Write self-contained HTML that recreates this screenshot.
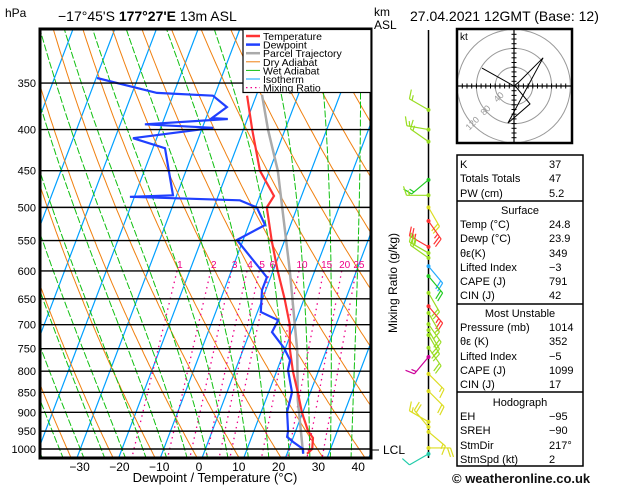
<!DOCTYPE html>
<html><head><meta charset="utf-8">
<style>
html,body{margin:0;padding:0;background:#fff;}
svg{display:block;font-family:"Liberation Sans",sans-serif;}
</style></head>
<body>
<svg id="chart" width="629" height="486" viewBox="0 0 629 486" xmlns="http://www.w3.org/2000/svg">
<defs><clipPath id="pc"><rect x="40" y="29" width="331" height="429"/></clipPath></defs>
<g id="bg" clip-path="url(#pc)"></g>
<g id="prof" clip-path="url(#pc)"></g>
<g id="fg"></g>
<text x="5" y="17" font-size="12">hPa</text>
<text x="58" y="21" font-size="14">−17°45'S <tspan font-weight="bold">177°27'E</tspan> 13m ASL</text>
<text x="374" y="16" font-size="12">km</text>
<text x="374" y="29" font-size="12">ASL</text>
<text x="410" y="21" font-size="14">27.04.2021 12GMT (Base: 12)</text>
<text x="215" y="482" font-size="13" text-anchor="middle">Dewpoint / Temperature (°C)</text>
<text transform="translate(397,283) rotate(-90)" font-size="12" text-anchor="middle">Mixing Ratio (g/kg)</text>
<line x1="372" y1="450" x2="379" y2="450" stroke="#000"/>
<text x="383" y="454" font-size="12">LCL</text>
<line x1="428.5" y1="30" x2="428.5" y2="458" stroke="#000" stroke-width="1.5"/>
<g id="barbs"></g>
<g id="hodo"></g>
<g id="table"></g>
<text x="452" y="483" font-size="13" font-weight="bold" fill="#111">© weatheronline.co.uk</text>
</svg>
<script>
// ---------- data ----------
const pressureLevels=[350,400,450,500,550,600,650,700,750,800,850,900,950,1000];
const xTicks=[-30,-20,-10,0,10,20,30,40];
const tempP=[363,400,450,484,500,550,600,650,700,750,800,850,900,950,969,1000,1014];
const tempT=[-22.2,-17.9,-12.3,-6.6,-7.3,-3.1,1.1,5.3,8.9,11.1,13.9,17.0,19.8,23.0,24.8,25.6,24.8];
const dewP=[345,360,363,375,387,388,394,398,410,422,483,485,490,500,526,549,611,634,675,691,715,748,775,797,850,899,950,966,980,1000,1014];
const dewT=[-59.8,-44.1,-30.4,-26.0,-28.6,-24.7,-44.1,-27.4,-45.7,-37.1,-30.9,-41.1,-14.4,-9.7,-6.1,-11.5,-0.9,-0.9,0.8,5.7,5.3,9.6,12.2,12.6,15.6,16.2,18.2,18.5,20.4,23.4,23.9];
const parcelP=[1012,869,753,600,450,400,362];
const parcelT=[23.8,17.7,13.0,4.0,-8.0,-14.1,-18.7];
const mixRatios=[1,2,3,4,5,6,10,15,20,25];
const wetStart=[-40,-35,-30,-25,-20,-15,-10,-5,0,5,10,15,20,25,30,35,40];
const barbP=[378,400,414,462,483,500,520,560,570,578,592,609,639,664,677,699,711,721,748,768,806,847,925,939,952,997,1014];
const barbDir=[300,280,305,230,270,150,145,300,300,305,140,140,150,140,150,145,150,150,145,220,135,135,300,320,130,90,240];
const barbSpd=[15,15,15,15,15,20,25,25,25,20,20,20,20,25,15,20,20,20,20,15,15,20,15,20,15,20,10];
const barbCol=["#99dd22","#99dd22","#99dd22","#22cc22","#99dd22","#dddd22","#ff3333","#ff3333","#99dd22","#99dd22","#22aaff","#22cc22","#99dd22","#ff3333","#99dd22","#99dd22","#99dd22","#99dd22","#99dd22","#cc0099","#dddd22","#dddd22","#dddd22","#dddd22","#dddd22","#dddd22","#22ccaa"];
const hodoU=[0,-68,0,10,62,-13,34,5,0];
const hodoV=[0,38,0,8,60,-79,-38,-3,0];
const tableRows=[["K","37"],["Totals Totals","47"],["PW (cm)","5.2"],["#Surface",""],["Temp (°C)","24.8"],["Dewp (°C)","23.9"],["θε(K)","349"],["Lifted Index","−3"],["CAPE (J)","791"],["CIN (J)","42"],["#Most Unstable",""],["Pressure (mb)","1014"],["θε (K)","352"],["Lifted Index","−5"],["CAPE (J)","1099"],["CIN (J)","17"],["#Hodograph",""],["EH","−95"],["SREH","−90"],["StmDir","217°"],["StmSpd (kt)","2"]];
// ---------- scales ----------
const NS="http://www.w3.org/2000/svg";
function yP(p){return 449+348.6*Math.log(p/1000);}
function xT(t,p){return 202+t*4.17+(458-yP(p))*0.38;}
function mk(tag,attrs,parent){const e=document.createElementNS(NS,tag);for(const k in attrs)e.setAttribute(k,attrs[k]);parent.appendChild(e);return e;}
const bg=document.getElementById('bg'),prof=document.getElementById('prof'),fg=document.getElementById('fg');
function poly(pts,stroke,w,dash,parent,name){const e=mk('polyline',{points:pts.map(q=>q[0].toFixed(1)+','+q[1].toFixed(1)).join(' '),fill:'none',stroke:stroke,'stroke-width':w},parent);if(dash)e.setAttribute('stroke-dasharray',dash);


return e;}
const pList=[];for(let p=1030;p>=295;p-=5)pList.push(p);
// isotherms
for(let t=-90;t<=40;t+=10){poly([[xT(t,1030),yP(1030)],[xT(t,295),yP(295)]],'#00a0ff',1.2,null,bg,'isotherm');}
// dry adiabats
for(let th=230;th<=480;th+=10){poly(pList.map(p=>[xT(th*Math.pow(p/1000,0.286)-273.15,p),yP(p)]),'#f08010',1,null,bg,'dry-adiabat');}
// wet adiabats
function es(t){return 6.112*Math.exp(17.67*t/(t+243.5));}
function dTdp(t,p){const T=t+273.15,rs=0.622*es(t)/(p-es(t)),L=2.5e6,Rd=287,cp=1004;return (Rd*T+L*rs)/(p*(cp+L*L*rs*0.622/(Rd*T*T)));}
wetStart.forEach(t0=>{const pts=[];let t=t0;for(let p=1000;p<=1030;p+=5){pts.push([xT(t,p),yP(p)]);t+=dTdp(t,p)*5;}
pts.reverse();t=t0;for(let p=1000;p>=295;p-=5){if(p<1000)pts.push([xT(t,p),yP(p)]);t-=dTdp(t,p)*5;}
poly(pts,'#10c010',1,'7,2',bg,'wet-adiabat');});
// mixing ratio lines
mixRatios.forEach(w=>{const pts=[];[600,1030].forEach(p=>{const e=w*p/(622+w),l=Math.log(e/6.112);const td=243.5*l/(17.67-l);pts.push([xT(td,p),yP(p)]);});
poly(pts,'#ee0088',1.3,'1.5,4',bg,'mixing-ratio-line');
const e=w*600/(622+w),l=Math.log(e/6.112),td=243.5*l/(17.67-l);
const tx=mk('text',{x:xT(td,600)+3,y:268,'font-size':10,fill:'#ee0088','text-anchor':'middle'},bg);tx.textContent=w;

});
// pressure lines
pressureLevels.forEach(p=>{const y=yP(p);const l=mk('line',{x1:40,x2:371,y1:y,y2:y,stroke:'#000','stroke-width':1.4},fg);


const t=mk('text',{x:36,y:y+4,'font-size':11,'text-anchor':'end'},fg);t.textContent=p;

});
// profiles
poly(parcelP.map((p,i)=>[xT(parcelT[i],p),yP(p)]),'#aaaaaa',2.5,null,prof,'parcel-trajectory');
poly(tempP.map((p,i)=>[xT(tempT[i],p),yP(p)]),'#ff3333',2.2,null,prof,'temperature-line');
poly(dewP.map((p,i)=>[xT(dewT[i],p),yP(p)]),'#2040ff',2.2,null,prof,'dewpoint-line');
// frame
const fr=mk('rect',{x:40,y:29,width:331,height:429,fill:'none',stroke:'#000','stroke-width':3},fg);


xTicks.forEach(t=>{const tx=mk('text',{x:199+t*3.98,y:471,'font-size':12,'text-anchor':'middle'},fg);tx.textContent=(t<0?'−':'')+Math.abs(t);

});
// legend
const lg=mk('g',{},fg);


mk('rect',{x:243,y:29.5,width:128,height:63,fill:'#fff',stroke:'#000','stroke-width':1.2},lg);
const legN=['Temperature','Dewpoint','Parcel Trajectory','Dry Adiabat','Wet Adiabat','Isotherm','Mixing Ratio'];
const legC=['#ff3333','#2040ff','#aaaaaa','#f08010','#10c010','#00a0ff','#ee0088'];
const legW=[2.5,2.5,2.5,1,1,1,1.3];
legN.forEach((n,i)=>{const y=36+i*8.6;const l=mk('line',{x1:246,x2:260,y1:y,y2:y,stroke:legC[i],'stroke-width':legW[i]},lg);if(i==6)l.setAttribute('stroke-dasharray','1.5,3');


const t=mk('text',{x:263,y:y+4,'font-size':10.5},lg);t.textContent=n;

});
// wind barbs
const bb=document.getElementById('barbs');
barbP.forEach((p,i)=>{const x=428.5,y=yP(p),c=barbCol[i],a=barbDir[i]*Math.PI/180;const dx=Math.sin(a),dy=-Math.cos(a);const L=22;
const ex=x+dx*L,ey=y+dy*L;const g=mk('g',{stroke:c,'stroke-width':1.2,fill:c},bb);


mk('circle',{cx:x,cy:y,r:2,stroke:'none'},g);mk('line',{x1:x,y1:y,x2:ex,y2:ey},g);
let s=barbSpd[i],pos=0;const px=-dy,py=dx;
while(s>=10){const bx=ex-dx*pos,by=ey-dy*pos;mk('line',{x1:bx,y1:by,x2:bx+px*9+dx*3,y2:by+py*9+dy*3},g);pos+=3;s-=10;}
if(s>=5){const bx=ex-dx*pos,by=ey-dy*pos;mk('line',{x1:bx,y1:by,x2:bx+px*5+dx*1.5,y2:by+py*5+dy*1.5},g);}});
// hodograph
const hd=document.getElementById('hodo');const cx=514,cy=86,k=0.47;
mk('rect',{x:457,y:29,width:115,height:114,fill:'#fff',stroke:'#000','stroke-width':2.5},hd);
const cp=mk('clipPath',{id:'hcl'},hd);mk('rect',{x:458,y:30,width:113,height:112},cp);
const hc=mk('g',{},hd);hc.setAttribute('clip-path','url(#hcl)');
[40,80,120].forEach(r=>{const c=mk('circle',{cx:cx,cy:cy,r:r*k,fill:'none',stroke:'#999','stroke-width':1},hc);


const t=mk('text',{transform:`translate(${cx-r*k*0.7},${cy+r*k*0.7}) rotate(-45)`,'font-size':9,fill:'#999','text-anchor':'middle'},hc);t.textContent=r;

});
mk('line',{x1:457,x2:572,y1:cy,y2:cy,stroke:'#000','stroke-width':1.2},hd);mk('line',{x1:cx,x2:cx,y1:29,y2:143,stroke:'#000','stroke-width':1.2},hd);
for(let d=-110;d<=110;d+=10){if(!d)continue;const q=d*k;mk('line',{x1:cx+q,x2:cx+q,y1:cy-2.5,y2:cy+2.5,stroke:'#000'},hd);mk('line',{y1:cy+q,y2:cy+q,x1:cx-2.5,x2:cx+2.5,stroke:'#000'},hd);}
poly(hodoU.map((u,i)=>[cx+u*k,cy-hodoV[i]*k]),'#000',1,null,hd,'hodograph-trace');
const kt=mk('text',{x:460,y:40,'font-size':10},hd);kt.textContent='kt';
// table
const tb=document.getElementById('table');
mk('rect',{x:457,y:155,width:126,height:311,fill:'#fff',stroke:'#000','stroke-width':1.5},tb);
[201,304,392].forEach(y=>mk('line',{x1:457,x2:583,y1:y,y2:y,stroke:'#000','stroke-width':1.5},tb));
const rowY=[164,178,193,210,224,238,253,267,281,295,313,327,341,356,370,384,402,416,430,445,459];
tableRows.forEach((r,i)=>{const y=rowY[i]+4;
if(r[0][0]=='#'){const t=mk('text',{x:520,y:y,'font-size':11,'text-anchor':'middle'},tb);t.textContent=r[0].slice(1);

return;}
const t=mk('text',{x:460,y:y,'font-size':11},tb);t.textContent=r[0];


const v=mk('text',{x:549,y:y,'font-size':11},tb);v.textContent=r[1];

});
</script>
</body></html>
